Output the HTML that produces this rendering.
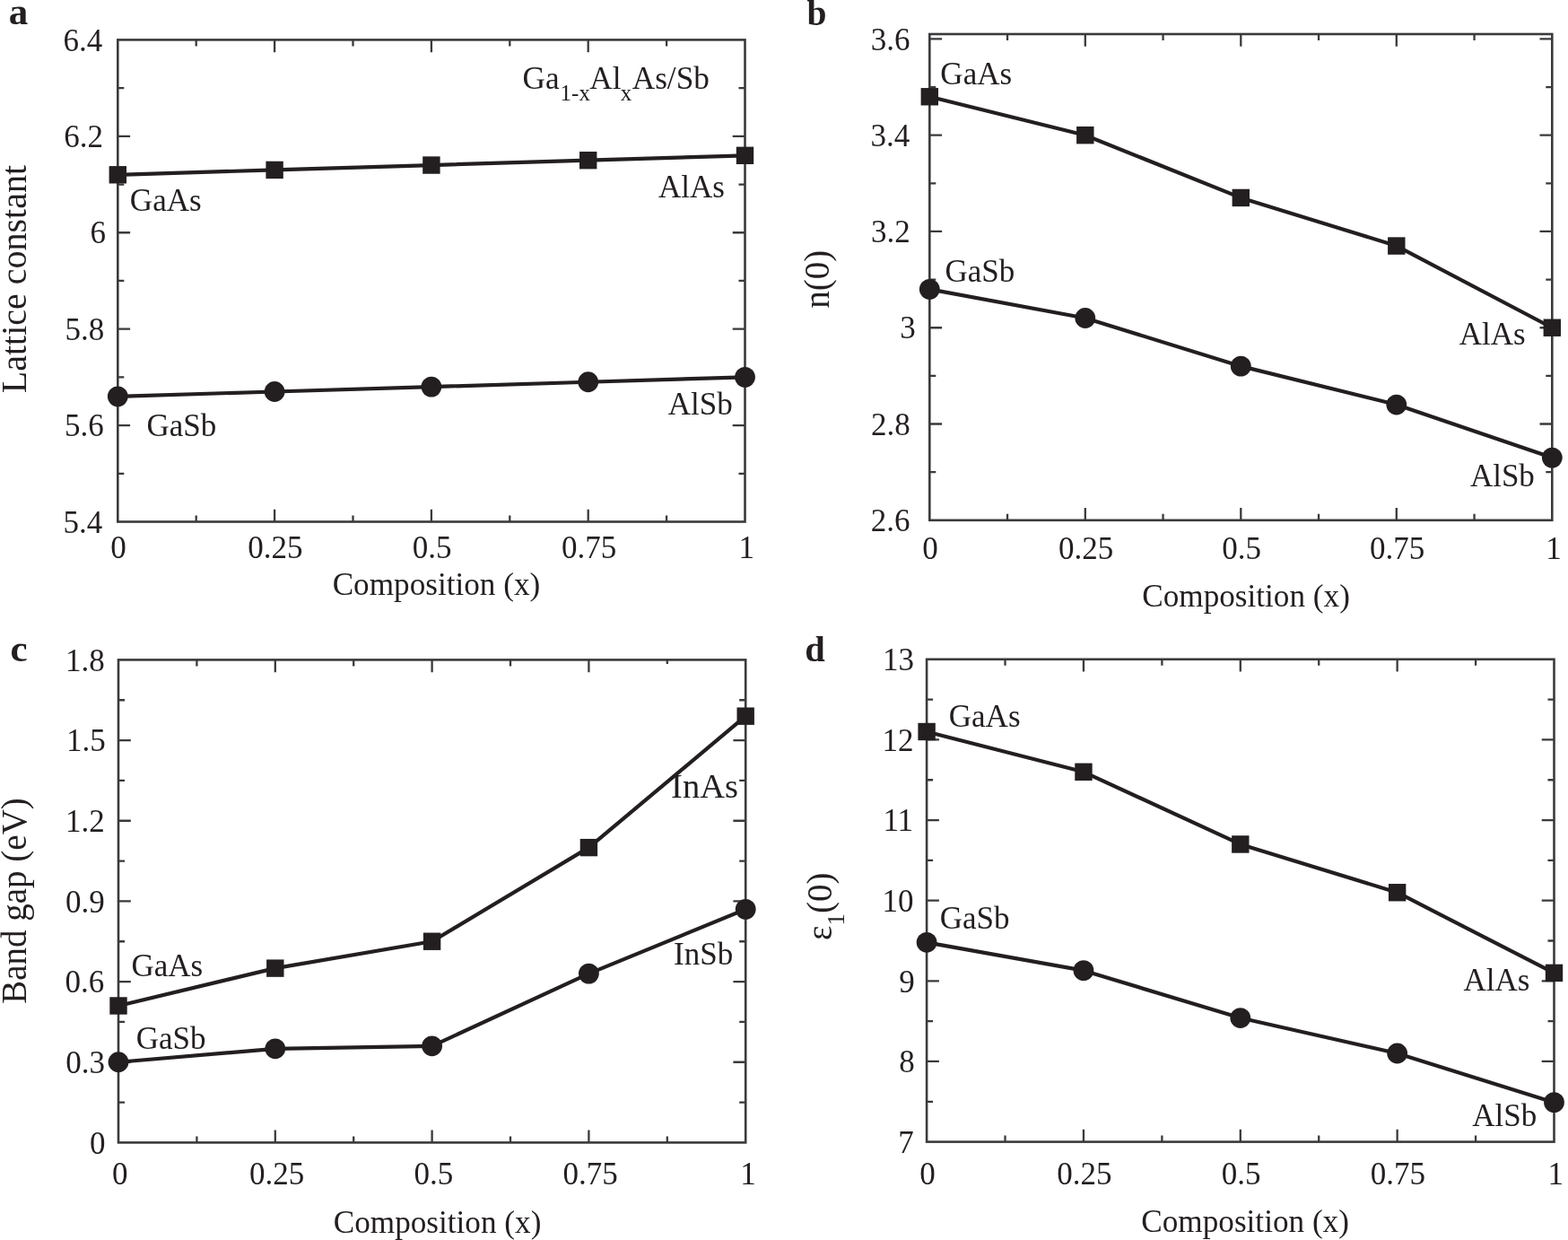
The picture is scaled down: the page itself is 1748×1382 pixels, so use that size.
<!DOCTYPE html>
<html><head><meta charset="utf-8"><title>Ga1-xAlxAs/Sb properties</title>
<style>html,body{margin:0;padding:0;background:#fff;}svg{display:block;}</style></head>
<body><svg width="1748" height="1382" viewBox="0 0 1748 1382" font-family="'Liberation Serif', 'Times New Roman', serif" fill="#231f20">
<rect width="1748" height="1382" fill="#fff"/>
<rect x="131.30" y="44.40" width="699.20" height="537.10" fill="none" stroke="#3a3a3c" stroke-width="2.6"/>
<path d="M218.70 581.50v-7.00M218.70 44.40v7.00M306.10 581.50v-13.80M306.10 44.40v13.80M393.50 581.50v-7.00M393.50 44.40v7.00M480.90 581.50v-13.80M480.90 44.40v13.80M568.30 581.50v-7.00M568.30 44.40v7.00M655.70 581.50v-13.80M655.70 44.40v13.80M743.10 581.50v-7.00M743.10 44.40v7.00M131.30 527.79h7.00M830.50 527.79h-7.00M131.30 474.08h13.80M830.50 474.08h-13.80M131.30 420.37h7.00M830.50 420.37h-7.00M131.30 366.66h13.80M830.50 366.66h-13.80M131.30 312.95h7.00M830.50 312.95h-7.00M131.30 259.24h13.80M830.50 259.24h-13.80M131.30 205.53h7.00M830.50 205.53h-7.00M131.30 151.82h13.80M830.50 151.82h-13.80M131.30 98.11h7.00M830.50 98.11h-7.00" stroke="#3a3a3c" stroke-width="2.3" fill="none"/>
<rect x="1036.30" y="38.00" width="694.00" height="541.80" fill="none" stroke="#3a3a3c" stroke-width="2.6"/>
<path d="M1123.05 579.80v-7.00M1123.05 38.00v7.00M1209.80 579.80v-13.80M1209.80 38.00v13.80M1296.55 579.80v-7.00M1296.55 38.00v7.00M1383.30 579.80v-13.80M1383.30 38.00v13.80M1470.05 579.80v-7.00M1470.05 38.00v7.00M1556.80 579.80v-13.80M1556.80 38.00v13.80M1643.55 579.80v-7.00M1643.55 38.00v7.00M1036.30 526.16h7.00M1730.30 526.16h-7.00M1036.30 472.52h13.80M1730.30 472.52h-13.80M1036.30 418.88h7.00M1730.30 418.88h-7.00M1036.30 365.24h13.80M1730.30 365.24h-13.80M1036.30 311.60h7.00M1730.30 311.60h-7.00M1036.30 257.96h13.80M1730.30 257.96h-13.80M1036.30 204.32h7.00M1730.30 204.32h-7.00M1036.30 150.68h13.80M1730.30 150.68h-13.80M1036.30 97.04h7.00M1730.30 97.04h-7.00M1036.30 43.40h13.80M1730.30 43.40h-13.80" stroke="#3a3a3c" stroke-width="2.3" fill="none"/>
<rect x="132.00" y="735.40" width="699.20" height="538.00" fill="none" stroke="#3a3a3c" stroke-width="2.6"/>
<path d="M219.40 1273.40v-7.00M219.40 735.40v7.00M306.80 1273.40v-13.80M306.80 735.40v13.80M394.20 1273.40v-7.00M394.20 735.40v7.00M481.60 1273.40v-13.80M481.60 735.40v13.80M569.00 1273.40v-7.00M569.00 735.40v7.00M656.40 1273.40v-13.80M656.40 735.40v13.80M743.80 1273.40v-7.00M743.80 735.40v4.60M132.00 1228.57h7.00M831.20 1228.57h-7.00M132.00 1183.73h13.80M831.20 1183.73h-13.80M132.00 1138.90h7.00M831.20 1138.90h-7.00M132.00 1094.07h13.80M831.20 1094.07h-13.80M132.00 1049.23h7.00M831.20 1049.23h-7.00M132.00 1004.40h13.80M831.20 1004.40h-13.80M132.00 959.57h7.00M831.20 959.57h-7.00M132.00 914.73h13.80M831.20 914.73h-13.80M132.00 869.90h7.00M831.20 869.90h-7.00M132.00 825.07h13.80M831.20 825.07h-13.80M132.00 780.23h7.00M831.20 780.23h-7.00" stroke="#3a3a3c" stroke-width="2.3" fill="none"/>
<rect x="1033.10" y="734.80" width="699.40" height="537.80" fill="none" stroke="#3a3a3c" stroke-width="2.6"/>
<path d="M1120.52 1272.60v-7.00M1120.52 734.80v7.00M1207.95 1272.60v-13.80M1207.95 734.80v13.80M1295.38 1272.60v-7.00M1295.38 734.80v7.00M1382.80 1272.60v-13.80M1382.80 734.80v13.80M1470.22 1272.60v-7.00M1470.22 734.80v7.00M1557.65 1272.60v-13.80M1557.65 734.80v13.80M1645.08 1272.60v-7.00M1645.08 734.80v7.00M1033.10 1227.78h7.00M1732.50 1227.78h-7.00M1033.10 1182.97h13.80M1732.50 1182.97h-13.80M1033.10 1138.15h7.00M1732.50 1138.15h-7.00M1033.10 1093.33h13.80M1732.50 1093.33h-13.80M1033.10 1048.52h7.00M1732.50 1048.52h-7.00M1033.10 1003.70h13.80M1732.50 1003.70h-13.80M1033.10 958.88h7.00M1732.50 958.88h-7.00M1033.10 914.07h13.80M1732.50 914.07h-13.80M1033.10 869.25h7.00M1732.50 869.25h-7.00M1033.10 824.43h13.80M1732.50 824.43h-13.80M1033.10 779.62h7.00M1732.50 779.62h-7.00" stroke="#3a3a3c" stroke-width="2.3" fill="none"/>
<polyline points="131.30,194.79 306.10,189.42 480.90,184.05 655.70,178.68 830.50,173.30" fill="none" stroke="#231f20" stroke-width="4.2" stroke-linejoin="round"/>
<rect x="121.60" y="185.09" width="19.4" height="19.4" fill="#231f20"/>
<rect x="296.40" y="179.72" width="19.4" height="19.4" fill="#231f20"/>
<rect x="471.20" y="174.35" width="19.4" height="19.4" fill="#231f20"/>
<rect x="646.00" y="168.98" width="19.4" height="19.4" fill="#231f20"/>
<rect x="820.80" y="163.60" width="19.4" height="19.4" fill="#231f20"/>
<polyline points="131.30,441.85 306.10,436.48 480.90,431.11 655.70,425.74 830.50,420.37" fill="none" stroke="#231f20" stroke-width="4.2" stroke-linejoin="round"/>
<circle cx="131.30" cy="441.85" r="11.4" fill="#231f20"/>
<circle cx="306.10" cy="436.48" r="11.4" fill="#231f20"/>
<circle cx="480.90" cy="431.11" r="11.4" fill="#231f20"/>
<circle cx="655.70" cy="425.74" r="11.4" fill="#231f20"/>
<circle cx="830.50" cy="420.37" r="11.4" fill="#231f20"/>
<polyline points="1036.30,107.77 1209.80,150.68 1383.30,220.41 1556.80,274.05 1730.30,365.24" fill="none" stroke="#231f20" stroke-width="4.2" stroke-linejoin="round"/>
<rect x="1026.60" y="98.07" width="19.4" height="19.4" fill="#231f20"/>
<rect x="1200.10" y="140.98" width="19.4" height="19.4" fill="#231f20"/>
<rect x="1373.60" y="210.71" width="19.4" height="19.4" fill="#231f20"/>
<rect x="1547.10" y="264.35" width="19.4" height="19.4" fill="#231f20"/>
<rect x="1720.60" y="355.54" width="19.4" height="19.4" fill="#231f20"/>
<polyline points="1036.30,322.33 1209.80,354.51 1383.30,408.15 1556.80,451.06 1730.30,510.07" fill="none" stroke="#231f20" stroke-width="4.2" stroke-linejoin="round"/>
<circle cx="1036.30" cy="322.33" r="11.4" fill="#231f20"/>
<circle cx="1209.80" cy="354.51" r="11.4" fill="#231f20"/>
<circle cx="1383.30" cy="408.15" r="11.4" fill="#231f20"/>
<circle cx="1556.80" cy="451.06" r="11.4" fill="#231f20"/>
<circle cx="1730.30" cy="510.07" r="11.4" fill="#231f20"/>
<polyline points="132.00,1120.97 306.80,1079.12 481.60,1049.23 656.40,944.62 831.20,798.17" fill="none" stroke="#231f20" stroke-width="4.2" stroke-linejoin="round"/>
<rect x="122.30" y="1111.27" width="19.4" height="19.4" fill="#231f20"/>
<rect x="297.10" y="1069.42" width="19.4" height="19.4" fill="#231f20"/>
<rect x="471.90" y="1039.53" width="19.4" height="19.4" fill="#231f20"/>
<rect x="646.70" y="934.92" width="19.4" height="19.4" fill="#231f20"/>
<rect x="821.50" y="788.47" width="19.4" height="19.4" fill="#231f20"/>
<polyline points="132.00,1183.73 306.80,1168.79 481.60,1165.80 656.40,1085.10 831.20,1013.37" fill="none" stroke="#231f20" stroke-width="4.2" stroke-linejoin="round"/>
<circle cx="132.00" cy="1183.73" r="11.4" fill="#231f20"/>
<circle cx="306.80" cy="1168.79" r="11.4" fill="#231f20"/>
<circle cx="481.60" cy="1165.80" r="11.4" fill="#231f20"/>
<circle cx="656.40" cy="1085.10" r="11.4" fill="#231f20"/>
<circle cx="831.20" cy="1013.37" r="11.4" fill="#231f20"/>
<polyline points="1033.10,815.47 1207.95,860.29 1382.80,940.96 1557.65,994.74 1732.50,1084.37" fill="none" stroke="#231f20" stroke-width="4.2" stroke-linejoin="round"/>
<rect x="1023.40" y="805.77" width="19.4" height="19.4" fill="#231f20"/>
<rect x="1198.25" y="850.59" width="19.4" height="19.4" fill="#231f20"/>
<rect x="1373.10" y="931.26" width="19.4" height="19.4" fill="#231f20"/>
<rect x="1547.95" y="985.04" width="19.4" height="19.4" fill="#231f20"/>
<rect x="1722.80" y="1074.67" width="19.4" height="19.4" fill="#231f20"/>
<polyline points="1033.10,1050.31 1207.95,1081.68 1382.80,1134.56 1557.65,1174.00 1732.50,1228.68" fill="none" stroke="#231f20" stroke-width="4.2" stroke-linejoin="round"/>
<circle cx="1033.10" cy="1050.31" r="11.4" fill="#231f20"/>
<circle cx="1207.95" cy="1081.68" r="11.4" fill="#231f20"/>
<circle cx="1382.80" cy="1134.56" r="11.4" fill="#231f20"/>
<circle cx="1557.65" cy="1174.00" r="11.4" fill="#231f20"/>
<circle cx="1732.50" cy="1228.68" r="11.4" fill="#231f20"/>
<g transform="translate(0,0.8)">
<text x="70.60" y="55.74" font-size="35.0">6.4</text>
<text x="71.29" y="163.16" font-size="35.0">6.2</text>
<text x="100.47" y="270.66" font-size="35.0">6</text>
<text x="72.52" y="378.05" font-size="35.0">5.8</text>
<text x="72.08" y="485.42" font-size="35.0">5.6</text>
<text x="70.58" y="592.77" font-size="35.0">5.4</text>
<text x="970.81" y="54.74" font-size="35.0">3.6</text>
<text x="970.51" y="162.02" font-size="35.0">3.4</text>
<text x="970.90" y="269.30" font-size="35.0">3.2</text>
<text x="1003.15" y="376.66" font-size="35.0">3</text>
<text x="970.97" y="483.91" font-size="35.0">2.8</text>
<text x="970.83" y="591.14" font-size="35.0">2.6</text>
<text x="73.10" y="746.79" font-size="35.0">1.8</text>
<text x="74.02" y="836.37" font-size="35.0">1.5</text>
<text x="73.10" y="926.07" font-size="35.0">1.2</text>
<text x="72.98" y="1015.79" font-size="35.0">0.9</text>
<text x="72.43" y="1105.46" font-size="35.0">0.6</text>
<text x="73.24" y="1195.12" font-size="35.0">0.3</text>
<text x="100.00" y="1284.87" font-size="35.0">0</text>
<text x="984.05" y="746.22" font-size="35.0">13</text>
<text x="983.58" y="836.02" font-size="35.0">12</text>
<text x="984.41" y="925.62" font-size="35.0">11</text>
<text x="983.48" y="1015.17" font-size="35.0">10</text>
<text x="1002.15" y="1104.75" font-size="35.0">9</text>
<text x="1002.35" y="1194.43" font-size="35.0">8</text>
<text x="1001.15" y="1284.06" font-size="35.0">7</text>
<text x="132.10" y="621.20" font-size="35.0" text-anchor="middle">0</text>
<text x="306.90" y="621.20" font-size="35.0" text-anchor="middle">0.25</text>
<text x="481.70" y="621.20" font-size="35.0" text-anchor="middle">0.5</text>
<text x="656.50" y="621.20" font-size="35.0" text-anchor="middle">0.75</text>
<text x="832.30" y="621.20" font-size="35.0" text-anchor="middle">1</text>
<text x="1037.10" y="621.90" font-size="35.0" text-anchor="middle">0</text>
<text x="1210.60" y="621.90" font-size="35.0" text-anchor="middle">0.25</text>
<text x="1384.10" y="621.90" font-size="35.0" text-anchor="middle">0.5</text>
<text x="1557.60" y="621.90" font-size="35.0" text-anchor="middle">0.75</text>
<text x="1732.10" y="621.90" font-size="35.0" text-anchor="middle">1</text>
<text x="133.80" y="1319.60" font-size="35.0" text-anchor="middle">0</text>
<text x="308.60" y="1319.60" font-size="35.0" text-anchor="middle">0.25</text>
<text x="483.40" y="1319.60" font-size="35.0" text-anchor="middle">0.5</text>
<text x="658.20" y="1319.60" font-size="35.0" text-anchor="middle">0.75</text>
<text x="834.00" y="1319.60" font-size="35.0" text-anchor="middle">1</text>
<text x="1033.90" y="1319.10" font-size="35.0" text-anchor="middle">0</text>
<text x="1208.75" y="1319.10" font-size="35.0" text-anchor="middle">0.25</text>
<text x="1383.60" y="1319.10" font-size="35.0" text-anchor="middle">0.5</text>
<text x="1558.45" y="1319.10" font-size="35.0" text-anchor="middle">0.75</text>
<text x="1734.30" y="1319.10" font-size="35.0" text-anchor="middle">1</text>
<text x="370.63" y="662.60" font-size="35.2">Composition (x)</text>
<text x="1273.23" y="675.00" font-size="35.2">Composition (x)</text>
<text x="371.73" y="1373.20" font-size="35.2">Composition (x)</text>
<text x="1272.28" y="1372.50" font-size="35.2">Composition (x)</text>
<text transform="translate(29.00,310.30) rotate(-90)" x="0" y="0" font-size="40.0" text-anchor="middle">Lattice constant</text>
<text transform="translate(924.00,310.50) rotate(-90)" x="0" y="0" font-size="39.0" text-anchor="middle">n(0)</text>
<text transform="translate(29.00,1003.20) rotate(-90)" x="0" y="0" font-size="39.0" text-anchor="middle">Band gap (eV)</text>
<text transform="translate(927.2,1009.5) rotate(-90)" x="0" y="0" font-size="39.0" text-anchor="middle">ε<tspan font-size="27" dy="13.5">1</tspan><tspan dy="-13.5">(0)</tspan></text>
<text x="9.63" y="25.90" font-size="43" font-weight="bold">a</text>
<text x="899.57" y="27.20" font-size="39.5" font-weight="bold">b</text>
<text x="11.56" y="735.90" font-size="43" font-weight="bold">c</text>
<text x="897.29" y="735.90" font-size="40.5" font-weight="bold">d</text>
<text x="144.86" y="234.40" font-size="35.0">GaAs</text>
<text x="733.91" y="219.20" font-size="35.0">AlAs</text>
<text x="163.51" y="485.30" font-size="35.0">GaSb</text>
<text x="744.71" y="461.20" font-size="35.0">AlSb</text>
<text x="1048.36" y="93.10" font-size="35.0">GaAs</text>
<text x="1053.41" y="313.00" font-size="35.0">GaSb</text>
<text x="1626.81" y="383.20" font-size="35.0">AlAs</text>
<text x="1638.91" y="541.00" font-size="35.0">AlSb</text>
<text x="146.51" y="1087.50" font-size="35.0">GaAs</text>
<text x="151.71" y="1168.00" font-size="35.0">GaSb</text>
<text x="748.07" y="888.00" font-size="38.5">InAs</text>
<text x="751.02" y="1074.00" font-size="35.0">InSb</text>
<text x="1057.81" y="808.90" font-size="35.0">GaAs</text>
<text x="1047.71" y="1034.50" font-size="35.0">GaSb</text>
<text x="1631.41" y="1103.30" font-size="35.0">AlAs</text>
<text x="1641.26" y="1254.20" font-size="35.0">AlSb</text>
<text><tspan x="582.56" y="98.00" font-size="35.2">Ga</tspan><tspan x="624.60" y="111.60" font-size="25.0">1-x</tspan><tspan x="657.36" y="98.00" font-size="35.2">Al</tspan><tspan x="691.68" y="111.60" font-size="25.0">x</tspan><tspan x="704.76" y="98.00" font-size="35.2">As/Sb</tspan></text>
</g>
</svg></body></html>
